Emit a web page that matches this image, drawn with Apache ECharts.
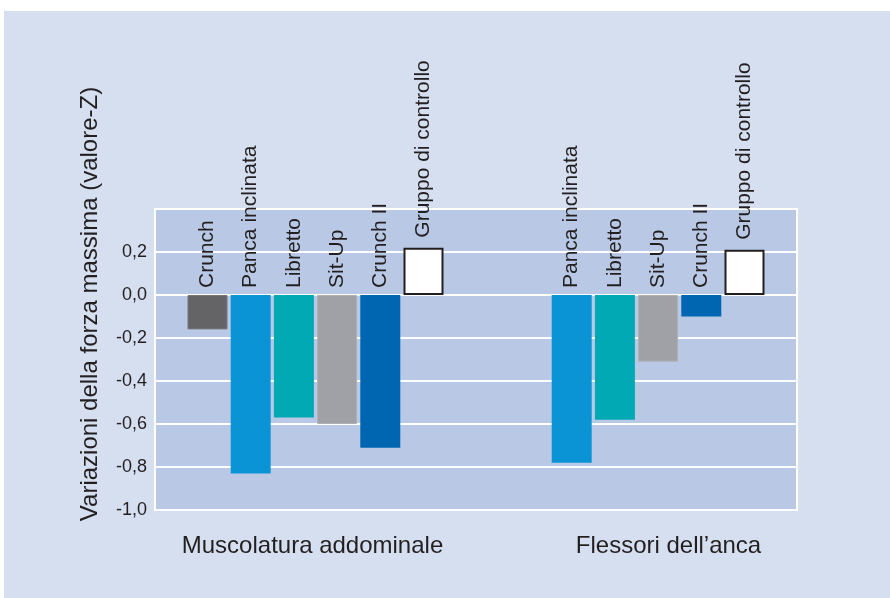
<!DOCTYPE html>
<html>
<head>
<meta charset="utf-8">
<script src="https://cdn.jsdelivr.net/npm/echarts@6/dist/echarts.min.js"></script>
<style>
  html, body { margin: 0; padding: 0; background: #ffffff; }
  #wrap { position: relative; width: 890px; height: 598px; background: #ffffff; overflow: hidden; }
  #chart { position: absolute; left: 4px; top: 11px; width: 886px; height: 587px; }
</style>
</head>
<body>
<div id="wrap"><div id="chart"></div></div>
<script>
// Muscle groups on the x axis
const categories = ['Muscolatura addominale', 'Flessori dell\u2019anca'];

// Exercises (one bar series each)
const exercises = ['Crunch', 'Panca inclinata', 'Libretto', 'Sit-Up', 'Crunch II', 'Gruppo di controllo'];

// Changes of maximal strength (Z-score) per muscle group
const crunch = [-0.16, null];
const pancaInclinata = [-0.83, -0.78];
const libretto = [-0.57, -0.58];
const sitUp = [-0.60, -0.31];
const crunchII = [-0.71, -0.10];
const gruppoControllo = [0.22, 0.21];

// Y-axis ticks
const yMin = -1.0;
const yMax = 0.4;
const yStep = 0.2;
const yHiddenTicks = [0.4];

const yTitle = 'Variazioni della forza massima (valore-Z)';

const seriesValues = [crunch, pancaInclinata, libretto, sitUp, crunchII, gruppoControllo];
const barColors = ['#646466', '#0a94d6', '#00a9b4', '#a0a1a6', '#0066b1', '#ffffff'];

const FONT = '"Liberation Sans", Arial, Helvetica, sans-serif';
const INK = '#231f20';

const chart = echarts.init(document.getElementById('chart'), null, { renderer: 'canvas' });

const series = exercises.map((name, i) => {
  const isControl = i === exercises.length - 1;
  return {
    name: name,
    type: 'bar',
    data: seriesValues[i],
    barWidth: 40,
    barGap: '8%',
    itemStyle: {
      color: barColors[i],
      borderColor: isControl ? '#231f20' : (i === 0 ? '#78787a' : (i === 3 ? '#b0b1b5' : barColors[i])),
      borderWidth: isControl ? 2 : (i === 0 || i === 3 ? 1 : 0)
    },
    label: {
      show: true,
      position: 'top',
      rotate: 90,
      align: 'left',
      verticalAlign: 'middle',
      distance: isControl ? 10 : 7,
      formatter: () => name,
      fontFamily: FONT,
      fontSize: 21,
      color: INK
    },
    emphasis: { disabled: true },
    animation: false
  };
});

chart.setOption({
  backgroundColor: '#d5dff0',
  animation: false,
  grid: {
    left: 151,
    right: 93,
    top: 198,
    bottom: 88,
    show: true,
    backgroundColor: '#b9c9e5',
    borderColor: '#ffffff',
    borderWidth: 2
  },
  xAxis: {
    type: 'category',
    data: categories,
    axisLine: { show: false },
    axisTick: { show: false },
    axisLabel: {
      margin: 24,
      formatter: (v, idx) => (idx === 0 ? '{a|' + v + '}' : '{b|' + v + '}'),
      rich: {
        a: { fontFamily: FONT, fontSize: 24, color: INK, padding: [0, 6, 0, 0] },
        b: { fontFamily: FONT, fontSize: 24, color: INK, padding: [0, 0, 0, 64] }
      }
    },
    splitLine: { show: false }
  },
  yAxis: {
    type: 'value',
    min: yMin,
    max: yMax,
    interval: yStep,
    name: yTitle,
    nameLocation: 'middle',
    nameRotate: 90,
    nameGap: 53,
    nameTextStyle: {
      fontFamily: FONT,
      fontSize: 24,
      color: INK,
      padding: [0, 0, 0, 111]
    },
    axisLine: { show: false },
    axisTick: { show: false },
    axisLabel: {
      margin: 8,
      fontFamily: FONT,
      fontSize: 18,
      color: INK,
      formatter: (v) => {
        if (yHiddenTicks.some(h => Math.abs(h - v) < 1e-9)) return '';
        return (Math.abs(v) < 1e-9 ? 0 : v).toFixed(1).replace('.', ',');
      }
    },
    splitLine: { show: true, lineStyle: { color: '#ffffff', width: 2 } }
  },
  series: series
});
</script>
</body>
</html>
